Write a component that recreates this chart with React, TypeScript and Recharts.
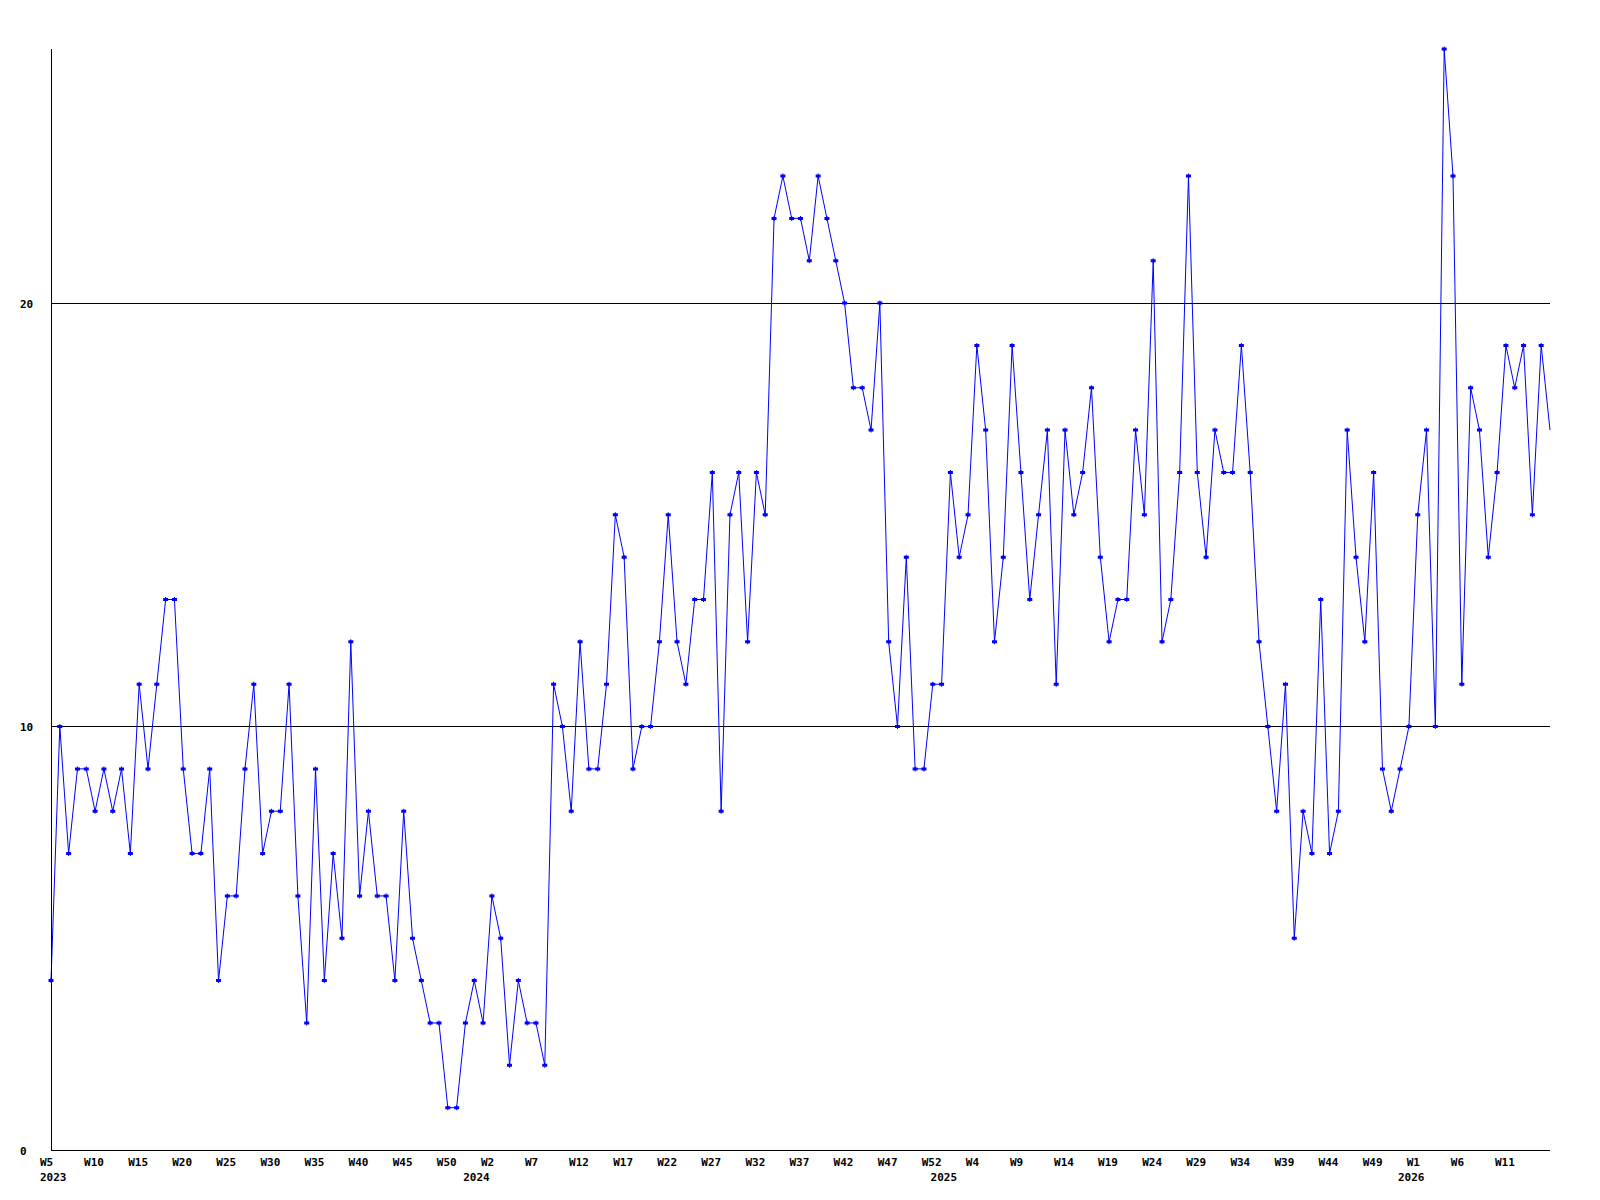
import React from 'react';
import { LineChart, Line, XAxis, YAxis, ReferenceLine } from 'recharts';

// Weekly series, one array per year
const years = [2023, 2024, 2025, 2026];
const firstWeeks = [5, 0, 0, 0];

const values2023 = [4, 10, 7, 9, 9, 8, 9, 8, 9, 7, 11, 9, 11, 13, 13, 9, 7, 7, 9, 4, 6, 6, 9, 11, 7, 8, 8, 11, 6, 3, 9, 4, 7, 5, 12, 6, 8, 6, 6, 4, 8, 5, 4, 3, 3, 1, 1, 3];
const values2024 = [4, 3, 6, 5, 2, 4, 3, 3, 2, 11, 10, 8, 12, 9, 9, 11, 15, 14, 9, 10, 10, 12, 15, 12, 11, 13, 13, 16, 8, 15, 16, 12, 16, 15, 22, 23, 22, 22, 21, 23, 22, 21, 20, 18, 18, 17, 20, 12, 10, 14, 9, 9, 11];
const values2025 = [11, 16, 14, 15, 19, 17, 12, 14, 19, 16, 13, 15, 17, 11, 17, 15, 16, 18, 14, 12, 13, 13, 17, 15, 21, 12, 13, 16, 23, 16, 14, 17, 16, 16, 19, 16, 12, 10, 8, 11, 5, 8, 7, 13, 7, 8, 17, 14, 12, 16, 9, 8, 9];
const values2026 = [10, 15, 17, 10, 26, 23, 11, 18, 17, 14, 16, 19, 18, 19, 15, 19, 17];

const seriesByYear = [values2023, values2024, values2025, values2026];
const yTicks = [0, 10, 20];
const gridValues = [10, 20];
const yDomain = [0, 26];
const weekLabelEvery = 5;

type Row = { i: number; year: number; week: number; value: number; firstOfYear: boolean };
const data: Row[] = [];
years.forEach((yr, k) => {
  seriesByYear[k].forEach((v, j) => {
    data.push({ i: data.length, year: yr, week: firstWeeks[k] + j, value: v, firstOfYear: j === 0 });
  });
});
const lastIndex = data.length - 1;

// the last (current, partial) week carries no label and no marker
const xTicks = data
  .filter((d) => d.i < lastIndex && (d.i % weekLabelEvery === 0 || d.firstOfYear))
  .map((d) => d.i);

const FONT = "'DejaVu Sans Mono', 'Liberation Mono', monospace";
const BLUE = '#0000ff';

const XTick = (props: any) => {
  const { x, y, payload } = props;
  const d = data[payload.value];
  if (!d) return null;
  return (
    <g>
      {d.i % weekLabelEvery === 0 && (
        <text x={x - 11} y={y + 12} textAnchor="start" dominantBaseline="central" fontFamily={FONT} fontWeight="bold" fontSize={11} fill="#000">
          {`W${d.week}`}
        </text>
      )}
      {d.firstOfYear && (
        <text x={x - 11} y={y + 27} textAnchor="start" dominantBaseline="central" fontFamily={FONT} fontWeight="bold" fontSize={11} fill="#000">
          {String(d.year)}
        </text>
      )}
    </g>
  );
};

const YTick = (props: any) => {
  const { y, payload } = props;
  return (
    <text x={12} y={y + 1} textAnchor="start" dominantBaseline="central" fontFamily={FONT} fontWeight="bold" fontSize={11} fill="#000">
      {payload.value}
    </text>
  );
};

const Marker = (props: any) => {
  const { cx, cy, index } = props;
  if (cx == null || cy == null || index === lastIndex) return <g key={`m${index}`} />;
  const d = `M${cx - 2.5},${cy - 1.5}h5v3h-5z M${cx - 0.5},${cy - 2.5}h1v5h-1z`;
  return <path key={`m${index}`} d={d} fill={BLUE} stroke="none" />;
};

export default function App() {
  return (
    <div style={{ width: 1592, height: 1192, background: '#fff' }}>
      <LineChart width={1592} height={1192} data={data} margin={{ top: 41, right: 50, bottom: 0, left: 0 }}>
        <XAxis
          dataKey="i"
          type="number"
          domain={[0, lastIndex]}
          ticks={xTicks}
          interval={0}
          height={50}
          tickSize={0}
          tickMargin={0}
          tickLine={false}
          axisLine={{ stroke: '#000', strokeWidth: 1, shapeRendering: 'crispEdges' }}
          tick={<XTick />}
          allowDecimals={false}
        />
        <YAxis
          type="number"
          domain={yDomain}
          ticks={yTicks}
          interval={0}
          width={43}
          tickSize={0}
          tickMargin={0}
          tickLine={false}
          axisLine={{ stroke: '#000', strokeWidth: 1, shapeRendering: 'crispEdges' }}
          tick={<YTick />}
        />
        {gridValues.map((g) => (
          <ReferenceLine key={g} y={g} stroke="#000" strokeWidth={1} shapeRendering="crispEdges" />
        ))}
        <Line
          type="linear"
          dataKey="value"
          stroke={BLUE}
          strokeWidth={1}
          dot={<Marker />}
          activeDot={false}
          isAnimationActive={false}
        />
      </LineChart>
    </div>
  );
}
